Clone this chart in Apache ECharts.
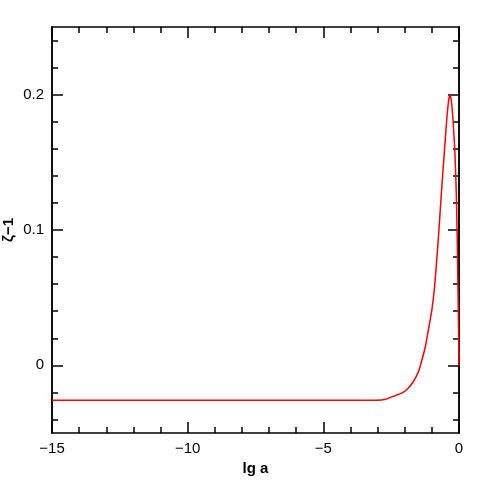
<!DOCTYPE html>
<html>
<head>
<meta charset="utf-8">
<script src="https://cdn.jsdelivr.net/npm/echarts@6/dist/echarts.min.js"></script>
<style>
  html, body { margin: 0; padding: 0; background: #fff; }
  #main { width: 485px; height: 485px; }
</style>
</head>
<body>
<div id="main"></div>
<script>
// lg a (x) 和 ζ-1 (y)
var lgA = [-15, -3.0, -2.7, -2.4, -2.1, -1.9, -1.7, -1.5, -1.37, -1.25, -1.13, -1.0, -0.9, -0.76,
           -0.64, -0.55, -0.45, -0.38, -0.33, -0.28, -0.23, -0.15, -0.09, -0.05, -0.015, 0];
var zetaM1 = [-0.0258, -0.0258, -0.025, -0.0228, -0.0203, -0.0175, -0.0125, -0.005, 0.0037, 0.013, 0.026, 0.041, 0.058, 0.094,
              0.13, 0.155, 0.182, 0.196, 0.2, 0.195, 0.184, 0.157, 0.12, 0.073, 0.024, 0];
var yMajorTicks = [0, 0.1, 0.2];
var yMinorTicks = [-0.04, -0.02, 0.02, 0.04, 0.06, 0.08, 0.12, 0.14, 0.16, 0.18, 0.22, 0.24];

var myChart = echarts.init(document.getElementById('main'));
var fontName = 'Liberation Sans';
var black = '#000';

function minus(v) { return String(v).replace('-', '\u2212'); }

function xAx(pos, showLabel) {
  return {
    type: 'value', position: pos, min: -15, max: 0, interval: 5,
    axisLine: { show: true, onZero: false, lineStyle: { color: black, width: 1.5 } },
    axisTick: { show: true, inside: true, length: 11, lineStyle: { color: black, width: 1.5 } },
    minorTick: { show: true, splitNumber: 5, length: 6, lineStyle: { color: black, width: 1.5 } },
    splitLine: { show: false },
    axisLabel: { show: showLabel, color: black, fontSize: 15, fontFamily: fontName, margin: 8,
                 formatter: function (v) { return minus(v); } },
    name: showLabel ? 'lg a' : '', nameLocation: 'middle', nameGap: 28, nameMoveOverlap: false,
    nameTextStyle: { color: black, fontSize: 15, fontFamily: fontName, fontWeight: 'bold' }
  };
}

function yAx(pos, ticks, len, showLabel) {
  return {
    type: 'value', position: pos, min: -0.05, max: 0.25, offset: 0,
    axisLine: { show: true, onZero: false, lineStyle: { color: black, width: 1.5 } },
    axisTick: { show: true, inside: true, length: len, customValues: ticks,
                lineStyle: { color: black, width: 1.5 } },
    splitLine: { show: false },
    axisLabel: { show: showLabel, customValues: yMajorTicks, color: black, fontSize: 15,
                 fontFamily: fontName, margin: 8 },
    name: showLabel ? '\u03b6\u22121' : '', nameLocation: 'middle', nameGap: 36, nameRotate: 90,
    nameMoveOverlap: false,
    nameTextStyle: { color: black, fontSize: 15, fontFamily: fontName, fontWeight: 'bold' }
  };
}

var pts = lgA.map(function (x, i) { return [x, zetaM1[i]]; });

var option = {
  animation: false,
  grid: { left: 52, right: 26, top: 27, bottom: 52, containLabel: false, outerBoundsMode: 'none' },
  xAxis: [xAx('bottom', true), xAx('top', false)],
  yAxis: [
    yAx('left', yMajorTicks, 11, true),
    yAx('left', yMinorTicks, 6, false),
    yAx('right', yMajorTicks, 11, false),
    yAx('right', yMinorTicks, 6, false)
  ],
  series: [{
    type: 'line', xAxisIndex: 0, yAxisIndex: 0,
    data: pts, showSymbol: false, smooth: 0.2,
    lineStyle: { color: '#ff0000', width: 1.5 }
  }]
};

myChart.setOption(option);
</script>
</body>
</html>
